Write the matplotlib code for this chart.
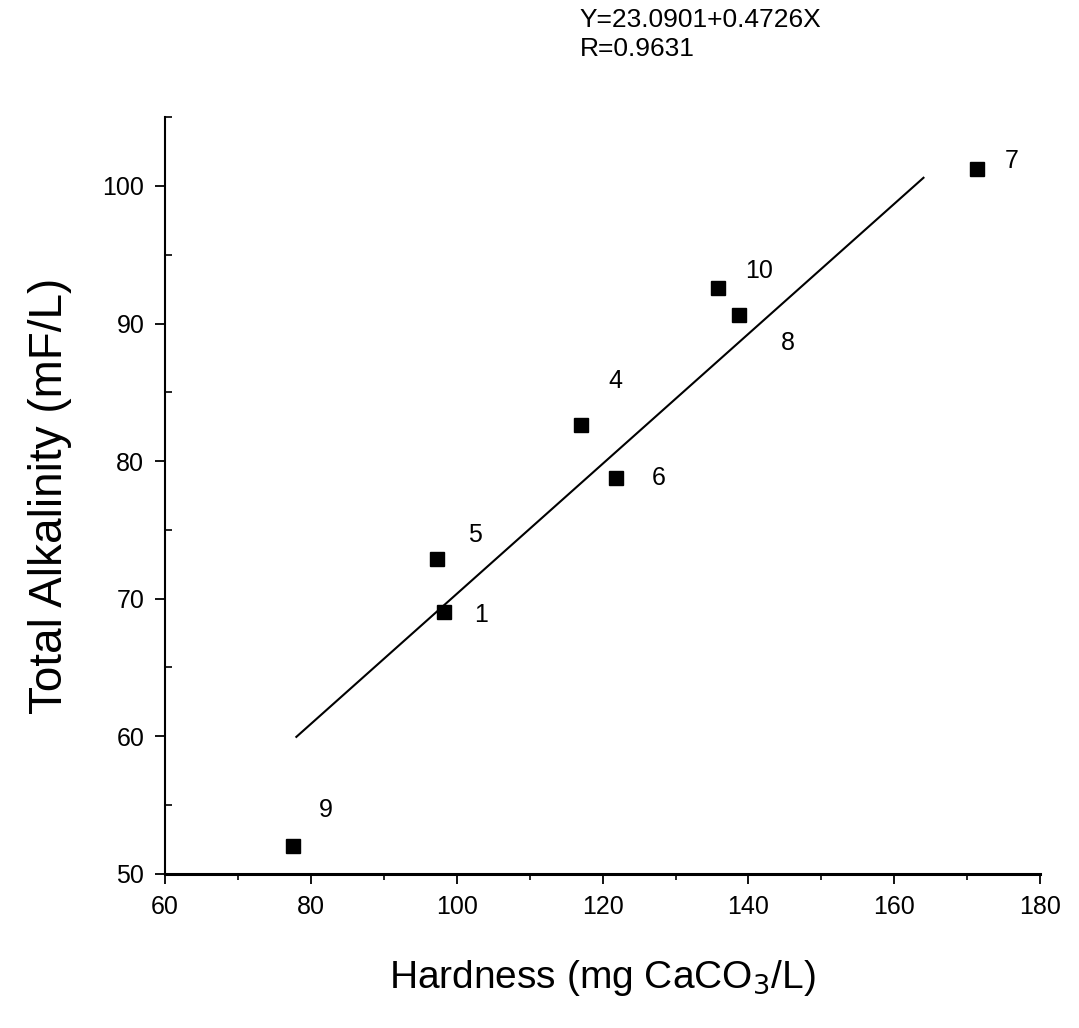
import matplotlib.pyplot as plt
from matplotlib.ticker import MultipleLocator

plt.rcParams['font.family'] = ['Liberation Sans', 'DejaVu Sans']

# sample points
sample_ids = ['1', '4', '5', '6', '7', '8', '9', '10']
hardness = [98.2, 117.0, 97.3, 121.8, 171.3, 138.7, 77.6, 135.8]
alkalinity = [69.0, 82.6, 72.9, 78.8, 101.2, 90.6, 52.0, 92.6]

# linear fit printed on the chart
intercept = 23.0901
slope = 0.4726
fit_x = [78, 164]
fit_y = [intercept + slope * x for x in fit_x]

# label offsets in points (dx, dy)
label_offsets = {
    '1': (22, -2), '4': (20, 32), '5': (22, 17), '6': (26, 0),
    '7': (20, 6), '8': (30, -20), '9': (18, 26), '10': (20, 12),
}

fig = plt.figure(figsize=(10.79, 10.28), dpi=100)
ax = fig.add_axes([0.153, 0.150, 0.811, 0.736])

ax.plot(fit_x, fit_y, color='black', linewidth=1.5)
ax.plot(hardness, alkalinity, 's', color='black', markersize=10)

for sid, x, y in zip(sample_ids, hardness, alkalinity):
    dx, dy = label_offsets[sid]
    ax.annotate(sid, (x, y), xytext=(dx, dy), textcoords='offset points',
                fontsize=18, va='center', ha='left')

ax.set_xlim(60, 180)
ax.set_ylim(50, 105)
ax.xaxis.set_major_locator(MultipleLocator(20))
ax.xaxis.set_minor_locator(MultipleLocator(10))
ax.yaxis.set_major_locator(MultipleLocator(10))
ax.yaxis.set_minor_locator(MultipleLocator(5))

ax.spines['top'].set_visible(False)
ax.spines['right'].set_visible(False)
ax.spines['bottom'].set_linewidth(2.2)
ax.spines['left'].set_linewidth(1.5)
ax.tick_params(axis='both', which='major', direction='out', length=7,
               width=1.3, labelsize=18, pad=8)
ax.tick_params(axis='x', which='minor', direction='out', length=4, width=1.2)
ax.tick_params(axis='y', which='minor', direction='in', length=5, width=1.2)

ax.set_xlabel('Hardness (mg CaCO$_3$/L)', fontsize=28, labelpad=28)
ax.set_ylabel('Total Alkalinity (mF/L)', fontsize=33, labelpad=22)

fig.text(0.537, 0.981, 'Y=23.0901+0.4726X', fontsize=19, va='center')
fig.text(0.537, 0.952, 'R=0.9631', fontsize=19, va='center')

fig.savefig('out.png', dpi=100, facecolor='white')
